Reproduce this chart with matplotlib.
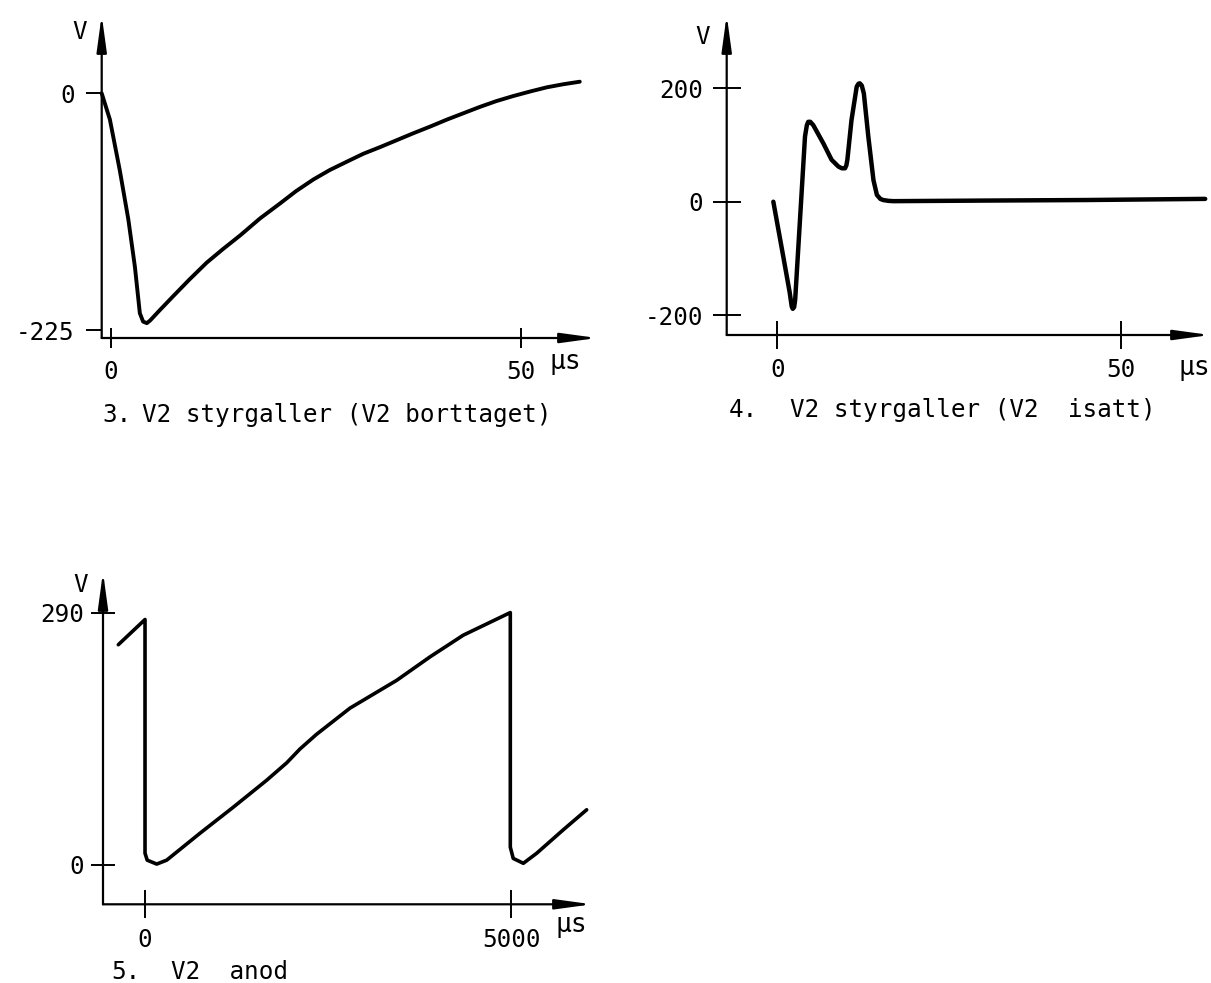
import matplotlib
matplotlib.use("Agg")
import matplotlib.pyplot as plt

W, H = 1211, 983
FS = 17.5
plt.rcParams["font.family"] = ["DejaVu Sans Mono", "DejaVu Sans"]

# 3. V2 styrgaller (V2 borttaget): time [us], voltage [V]
t3 = [-1.1, -0.1, 1.1, 2.15, 2.95, 3.55, 3.95, 4.4, 4.8, 6.0, 7.6, 9.6,
      11.7, 13.7, 15.8, 18.2, 20.6, 22.6, 24.7, 26.7, 28.8, 30.8, 32.9,
      34.9, 36.9, 39.0, 41.0, 43.0, 45.0, 47.0, 49.1, 51.2, 53.2, 55.2, 57.2]
v3 = [0, -25, -73, -120, -165, -209, -217, -218.5, -216, -206, -193, -177,
      -161, -148, -135, -119, -105, -93, -82, -73, -65, -57.5, -51,
      -44.5, -38, -31.5, -25, -19, -13, -7.5, -2.6, 1.8, 5.7, 8.6, 11]

# 4. V2 styrgaller (V2 isatt)
t4 = [-0.58, 0.87, 1.8, 2.1, 2.25, 2.45, 2.6, 3.3, 4.03, 4.3, 4.5, 4.8,
      5.24, 6.7, 7.9, 8.9, 9.4, 9.86, 10.05, 10.2, 10.8, 11.56, 11.8, 12.0,
      12.3, 12.6, 13.25, 14.0, 14.5, 15.0, 15.4, 16.2, 16.9, 30.0, 45.0, 62.3]
v4 = [0, -97, -160, -185, -189, -186, -173, -32, 115, 135, 141, 141,
      135, 103, 74, 62, 59, 59, 64, 74, 144, 203, 208, 209,
      205, 191, 115, 38, 12, 5, 3, 1.5, 1, 2, 3, 5]

# 5. V2 anod
t5 = [-365, 0, 0, 30, 160, 296, 751, 1206, 1662, 1935, 2117, 2345, 2527,
      2800, 3438, 3893, 4348, 4990, 4990, 5030, 5168, 5351, 5714, 6033]
v5 = [253, 282, 13, 5, 0.5, 5, 36, 66, 97, 117, 133, 150, 162,
      180, 212, 239, 264, 290, 20, 7, 1.4, 13, 40, 63]

xticks3, xlabels3 = [0, 50], ["0", "50"]
yticks3, ylabels3 = [0, -225], ["0", "-225"]
xticks4, xlabels4 = [0, 50], ["0", "50"]
yticks4, ylabels4 = [200, 0, -200], ["200", "0", "-200"]
xticks5, xlabels5 = [0, 5000], ["0", "5000"]
yticks5, ylabels5 = [290, 0], ["290", "0"]

fig = plt.figure(figsize=(W / 100, H / 100), dpi=100)


def add_panel(box, xlim, ylim):
    # box is (left, top, right, bottom) in pixels, axis lines on left/bottom
    x0, y0, x1, y1 = box
    ax = fig.add_axes([x0 / W, 1 - y1 / H, (x1 - x0) / W, (y1 - y0) / H])
    ax.set_xlim(xlim)
    ax.set_ylim(ylim)
    for s in ax.spines.values():
        s.set_visible(False)
    ax.patch.set_visible(False)
    arrow = dict(arrowstyle="-|>,head_length=2.2,head_width=0.3", lw=1.6,
                 color="k", shrinkA=0, shrinkB=0, mutation_scale=10)
    ax.annotate("", xy=(1, 0), xytext=(0, 0), xycoords="axes fraction",
                arrowprops=arrow)
    ax.annotate("", xy=(0, 1), xytext=(0, 0), xycoords="axes fraction",
                arrowprops=arrow)
    return ax


def label(x, y, s, ha="center", va="center", size=FS):
    fig.text(x / W, 1 - y / H, s, ha=ha, va=va, fontsize=size)


# panel 3
ax3 = add_panel((101.7, 15, 597, 338), (-1.1, 59.3), (-232.6, 74.4))
ax3.plot(t3, v3, color="k", lw=2.8, solid_joinstyle="round",
         solid_capstyle="round", clip_on=False)
ax3.set_xticks(xticks3, xlabels3)
ax3.set_yticks(yticks3, ylabels3)
ax3.tick_params(axis="x", direction="inout", length=15, width=1.4, pad=8,
                labelsize=FS)
ax3.tick_params(axis="y", direction="out", length=11.5, width=1.4, pad=8,
                labelsize=FS)

# panel 4
ax4 = add_panel((726.7, 15, 1210, 335), (-7.37, 63.0), (-235.2, 329.5))
ax4.plot(t4, v4, color="k", lw=3.2, solid_joinstyle="round",
         solid_capstyle="round", clip_on=False)
ax4.set_xticks(xticks4, xlabels4)
ax4.set_yticks(yticks4, ylabels4)
ax4.tick_params(axis="x", direction="inout", length=19.5, width=1.4, pad=7,
                labelsize=FS)
ax4.tick_params(axis="y", direction="inout", length=20, width=1.4, pad=7,
                labelsize=FS)

# panel 5
ax5 = add_panel((103, 572, 592, 904.3), (-574, 6106), (-45.8, 336.7))
ax5.plot(t5, v5, color="k", lw=2.6, solid_joinstyle="round",
         solid_capstyle="round", clip_on=False)
ax5.set_xticks(xticks5, xlabels5)
ax5.set_yticks(yticks5, ylabels5)
ax5.tick_params(axis="x", direction="inout", length=19.5, width=1.4, pad=7,
                labelsize=FS)
ax5.tick_params(axis="y", direction="inout", length=17, width=1.4, pad=5,
                labelsize=FS)

# axis units and captions
label(80, 32, "V")
label(703, 37, "V")
label(81, 585, "V")
label(565, 362, "µs", size=19)
label(1194, 368, "µs", size=19)
label(571, 925, "µs", size=19)
label(102, 422, "3.", ha="left", va="baseline")
label(142, 422, "V2 styrgaller (V2 borttaget)", ha="left", va="baseline")
label(729, 417, "4.", ha="left", va="baseline")
label(790, 417, "V2 styrgaller (V2  isatt)", ha="left", va="baseline")
label(111, 979, "5.", ha="left", va="baseline")
label(171, 979, "V2  anod", ha="left", va="baseline")

fig.savefig("out.png", dpi=100)
